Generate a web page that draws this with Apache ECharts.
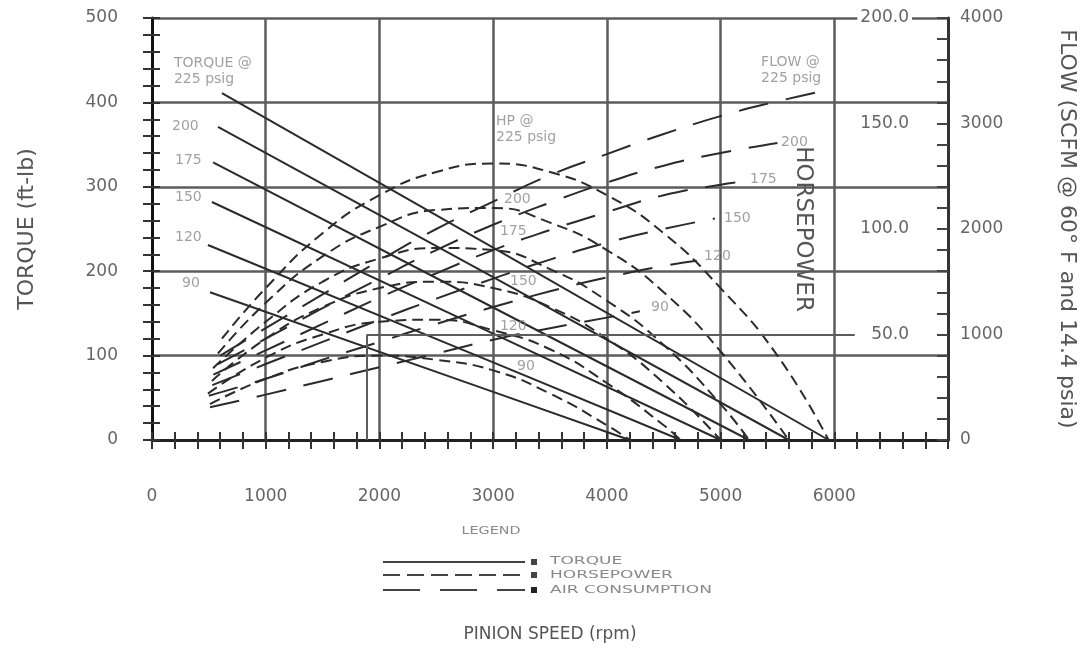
<!DOCTYPE html>
<html>
<head>
<meta charset="utf-8">
<script src="https://cdn.jsdelivr.net/npm/echarts@6/dist/echarts.min.js"></script>
<style>
  html, body { margin: 0; padding: 0; background: #fff; }
  #chart { width: 1088px; height: 652px; }
</style>
</head>
<body>
<div id="chart"></div>
<script>
// [rpm, torque ft-lb] per inlet pressure
const torque225 = [[615, 411], [3000, 228], [5950, 0]]
const torque200 = [[580, 371], [3000, 193], [5600, 0]]
const torque175 = [[537, 329], [3000, 157], [5250, 0]]
const torque150 = [[527, 282], [3000, 126], [5000, 0]]
const torque120 = [[492, 231], [3000, 92], [4650, 0]]
const torque90 = [[510, 175], [3000, 57], [4200, 0]]

// [rpm, hp]
const hp225 = [[615, 48], [1000, 72], [1500, 98], [2000, 116], [2500, 127], [3000, 131], [3500, 127], [4000, 116], [4500, 98], [5000, 72], [5500, 40], [5950, 0]]
const hp200 = [[580, 41], [1000, 65], [1500, 87], [2000, 101], [2500, 109], [3000, 110], [3500, 103], [4000, 90], [4500, 70], [5000, 42], [5600, 0]]
const hp175 = [[537, 34], [1000, 56], [1500, 75], [2000, 86], [2500, 91], [3000, 90], [3500, 81], [4000, 66], [4500, 45], [5000, 17], [5250, 0]]
const hp150 = [[527, 28], [1000, 48], [1500, 63], [2000, 72], [2500, 75], [3000, 72], [3500, 63], [4000, 48], [4500, 27], [5000, 0]]
const hp120 = [[492, 22], [1000, 39], [1500, 50], [2000, 56], [2500, 57], [3000, 52], [3500, 43], [4000, 27], [4500, 7], [4650, 0]]
const hp90 = [[510, 17], [1000, 29], [1500, 37], [2000, 40], [2500, 38], [3000, 33], [3500, 22], [4000, 7], [4200, 0]]

// [rpm, scfm]
const flow225 = [[600, 800], [1000, 1060], [1500, 1380], [2000, 1700], [2500, 2000], [3000, 2260], [3500, 2510], [4000, 2710], [4500, 2900], [5000, 3070], [5500, 3210], [5950, 3320]]
const flow200 = [[580, 720], [1000, 960], [1500, 1250], [2000, 1530], [2500, 1800], [3000, 2040], [3500, 2250], [4000, 2440], [4500, 2600], [5000, 2720], [5500, 2815]]
const flow175 = [[540, 620], [1000, 850], [1500, 1100], [2000, 1350], [2500, 1580], [3000, 1800], [3500, 1990], [4000, 2160], [4500, 2320], [5000, 2420], [5240, 2455]]
const flow150 = [[530, 520], [1000, 720], [1500, 930], [2000, 1140], [2500, 1340], [3000, 1530], [3500, 1710], [4000, 1870], [4500, 2000], [4950, 2100]]
const flow120 = [[500, 420], [1000, 580], [1500, 760], [2000, 930], [2500, 1100], [3000, 1260], [3500, 1410], [4000, 1540], [4500, 1650], [4790, 1700]]
const flow90 = [[510, 310], [1000, 430], [1500, 560], [2000, 690], [2500, 820], [3000, 950], [3500, 1060], [4000, 1160], [4290, 1220]]

// curve labels [rpm, value on that curve's axis, text]
const torqueNotes = [[176, 372, '200'], [202, 331, '175'], [202, 287, '150'], [202, 240, '120'], [264, 186, '90']]
const torqueTitle = [[158, 437, 'TORQUE @\n225 psig']]
const hpNotes = [[3096, 114, '200'], [3060, 99, '175'], [3148, 75, '150'], [3060, 54, '120'], [3210, 35, '90']]
const hpTitle = [[3025, 147, 'HP @\n225 psig']]
const flowNotes = [[5532, 2825, '200'], [5259, 2474, '175'], [5030, 2104, '150'], [4855, 1744, '120'], [4388, 1261, '90']]
const flowTitle = [[5321, 3507, 'FLOW @\n225 psig']]

// 50 hp reference bracket
const hp50Line = [[1890, 50], [6180, 50]]
const hp50Drop = [[1890, 0], [1890, 50]]

const FONT = "'DejaVu Sans', sans-serif"
const INK = '#2b2b2b'
const GRIDC = '#5c5c5c'

function curve(data, yIdx, dash) {
  return {
    type: 'line', data, xAxisIndex: 0, yAxisIndex: yIdx,
    symbol: 'none', smooth: dash ? 0.5 : false,
    lineStyle: { color: INK, width: 2, type: dash || 'solid' },
    silent: true, z: 3
  }
}

function notes(list, yIdx, boxed) {
  return {
    type: 'scatter', yAxisIndex: yIdx, symbolSize: 0, silent: true, z: 6,
    data: list.map(n => ({ value: [n[0], n[1]], label: { formatter: n[2] } })),
    label: {
      show: true, position: 'right', distance: 0,
      color: '#8a8a8a', fontSize: 14, fontFamily: FONT, lineHeight: 16,
      backgroundColor: boxed ? '#fff' : 'transparent',
      padding: boxed ? [4, 4] : 0
    }
  }
}

const hpDash = [11, 6]
const flowDash = [30, 18]

const series = [
  curve(torque225, 0), curve(torque200, 0), curve(torque175, 0),
  curve(torque150, 0), curve(torque120, 0), curve(torque90, 0),
  curve(hp225, 3, hpDash), curve(hp200, 3, hpDash), curve(hp175, 3, hpDash),
  curve(hp150, 3, hpDash), curve(hp120, 3, hpDash), curve(hp90, 3, hpDash),
  curve(flow225, 2, flowDash), curve(flow200, 2, flowDash), curve(flow175, 2, flowDash),
  curve(flow150, 2, flowDash), curve(flow120, 2, flowDash), curve(flow90, 2, flowDash),
  notes(torqueNotes, 0), notes(torqueTitle, 0, true),
  notes(hpNotes, 3), notes(hpTitle, 3),
  notes(flowNotes, 2), notes(flowTitle, 2, true)
]

// bracket drawn as a mark line on the 90 psig hp curve
series[11].markLine = {
  silent: true, symbol: 'none', label: { show: false },
  lineStyle: { color: GRIDC, width: 2, type: 'solid' },
  data: [
    [{ coord: hp50Line[0] }, { coord: hp50Line[1] }],
    [{ coord: hp50Drop[0] }, { coord: hp50Drop[1] }]
  ]
}

const tickLabel = { color: '#666', fontSize: 17, fontFamily: FONT }

const option = {
  animation: false,
  backgroundColor: '#fff',
  grid: { left: 152, right: 140, top: 18, bottom: 212, outerBoundsMode: 'none' },
  xAxis: [
    {
      type: 'value', min: 0, max: 7000, interval: 1000, position: 'bottom',
      name: 'PINION SPEED (rpm)', nameLocation: 'middle', nameGap: 186,
      nameTextStyle: { color: '#555', fontSize: 17, fontFamily: FONT },
      axisLine: { lineStyle: { color: '#222', width: 3 } },
      axisTick: { show: true, inside: false, length: 9, lineStyle: { color: '#333', width: 2 } },
      minorTick: { show: true, splitNumber: 5, length: 9, lineStyle: { color: '#333', width: 2 } },
      axisLabel: { ...tickLabel, margin: 48, formatter: v => (v > 6000 ? '' : String(v)) },
      splitLine: { show: true, lineStyle: { color: GRIDC, width: 2.5 } }
    },
    {
      type: 'value', min: 0, max: 7000, interval: 1000, position: 'bottom',
      axisLine: { show: false },
      axisTick: { show: true, inside: true, length: 8, lineStyle: { color: '#333', width: 2 } },
      minorTick: { show: true, splitNumber: 5, length: 8, lineStyle: { color: '#333', width: 2 } },
      axisLabel: { show: false }, splitLine: { show: false }
    }
  ],
  yAxis: [
    {
      type: 'value', min: 0, max: 500, interval: 100, position: 'left',
      name: 'TORQUE (ft-lb)', nameLocation: 'middle', nameGap: 114,
      nameTextStyle: { color: '#555', fontSize: 22, fontFamily: FONT },
      axisLine: { show: true, lineStyle: { color: '#111', width: 3 } },
      axisTick: { show: true, inside: false, length: 9, lineStyle: { color: '#333', width: 2 } },
      minorTick: { show: true, splitNumber: 5, length: 9, lineStyle: { color: '#333', width: 2 } },
      axisLabel: { ...tickLabel, margin: 34 },
      splitLine: { show: true, lineStyle: { color: GRIDC, width: 2.5 } }
    },
    {
      type: 'value', min: 0, max: 500, interval: 100, position: 'left',
      axisLine: { show: false },
      axisTick: { show: true, inside: true, length: 8, lineStyle: { color: '#333', width: 2 } },
      minorTick: { show: true, splitNumber: 5, length: 8, lineStyle: { color: '#333', width: 2 } },
      axisLabel: { show: false }, splitLine: { show: false }
    },
    {
      type: 'value', min: 0, max: 4000, interval: 1000, position: 'right',
      name: 'FLOW (SCFM @ 60° F and 14.4 psia)', nameLocation: 'middle', nameGap: 108, nameRotate: -90,
      nameTextStyle: { color: '#555', fontSize: 22, fontFamily: FONT },
      axisLine: { show: true, lineStyle: { color: '#333', width: 3 } },
      axisTick: { show: true, inside: true, length: 11, lineStyle: { color: '#444', width: 2 } },
      minorTick: { show: true, splitNumber: 5, length: 11, lineStyle: { color: '#444', width: 2 } },
      axisLabel: { ...tickLabel, margin: 12, formatter: v => String(v) },
      splitLine: { show: false }
    },
    {
      type: 'value', min: 0, max: 200, interval: 50, position: 'right', offset: -34, z: 4,
      name: 'HORSEPOWER', nameLocation: 'middle', nameGap: -123, nameRotate: -90,
      nameTextStyle: { color: '#555', fontSize: 23, fontFamily: FONT },
      axisLine: { show: false }, axisTick: { show: false },
      axisLabel: {
        ...tickLabel, inside: true, margin: 2,
        backgroundColor: '#fff', padding: [0, 3],
        formatter: v => (v === 0 ? '' : v.toFixed(1))
      },
      splitLine: { show: false }
    }
  ],
  graphic: [
    { type: 'text', x: 491, y: 531, scaleX: 1.3, style: { text: 'LEGEND', fill: '#8a8a8a', font: '11px ' + FONT, textAlign: 'center', textVerticalAlign: 'middle' } },
    { type: 'line', shape: { x1: 383, y1: 562, x2: 525, y2: 562 }, style: { stroke: '#444', lineWidth: 2 } },
    { type: 'line', shape: { x1: 383, y1: 575, x2: 525, y2: 575 }, style: { stroke: '#444', lineWidth: 2, lineDash: [17, 7] } },
    { type: 'line', shape: { x1: 383, y1: 590, x2: 525, y2: 590 }, style: { stroke: '#444', lineWidth: 2, lineDash: [37, 20] } },
    { type: 'rect', shape: { x: 531, y: 559, width: 6, height: 6 }, style: { fill: '#444' } },
    { type: 'rect', shape: { x: 531, y: 572, width: 6, height: 6 }, style: { fill: '#444' } },
    { type: 'rect', shape: { x: 531, y: 587, width: 6, height: 6 }, style: { fill: '#222' } },
    { type: 'text', x: 550, y: 561, scaleX: 1.55, style: { text: 'TORQUE', fill: '#8a8a8a', font: '11px ' + FONT, textVerticalAlign: 'middle' } },
    { type: 'text', x: 550, y: 575, scaleX: 1.55, style: { text: 'HORSEPOWER', fill: '#8a8a8a', font: '11px ' + FONT, textVerticalAlign: 'middle' } },
    { type: 'text', x: 550, y: 590, scaleX: 1.55, style: { text: 'AIR CONSUMPTION', fill: '#8a8a8a', font: '11px ' + FONT, textVerticalAlign: 'middle' } }
  ],
  series
}

const chart = echarts.init(document.getElementById('chart'), null, { renderer: 'canvas' })
chart.setOption(option)
</script>
</body>
</html>
